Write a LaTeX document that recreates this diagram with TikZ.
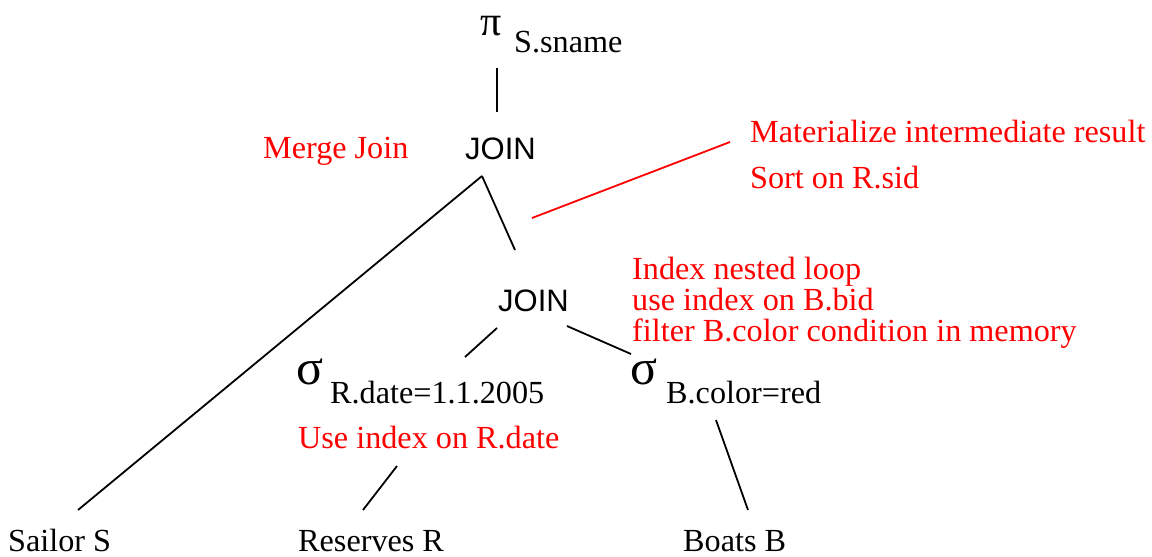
\documentclass[tikz,border=0pt]{standalone}
\usepackage{fontspec}
\setmainfont{Liberation Serif}
\newfontfamily\sansf{Liberation Sans}
\begin{document}
\begin{tikzpicture}[x=1pt,y=-1pt,
  txt/.style={anchor=base west,inner sep=0pt,font=\fontsize{32.2}{32.2}\selectfont},
  note/.style={txt,text=red},
  op/.style={anchor=base west,inner sep=0pt,font=\sansf\fontsize{31}{31}\selectfont},
  greek/.style={anchor=base west,inner sep=0pt},
  edge/.style={line width=1.8pt,black},
  redge/.style={line width=1.8pt,red}]
\useasboundingbox (0,0) rectangle (1152,557);
% projection
\node[greek,font=\fontsize{42}{42}\selectfont] (pi) at (480,35) {π};
\node[txt] (pisub) at (514,52) {S.sname};
% joins
\node[op] (join1) at (465,159) {JOIN};
\node[op] (join2) at (498,311) {JOIN};
% selections
\node[greek,font=\fontsize{50}{50}\selectfont] (sigR) at (296,384) {σ};
\node[txt] (sigRsub) at (330,403) {R.date=1.1.2005};
\node[greek,font=\fontsize{50}{50}\selectfont] (sigB) at (630,384) {σ};
\node[txt] (sigBsub) at (666,403) {B.color=red};
% relations
\node[txt] (sailor) at (8,551) {Sailor S};
\node[txt] (reserves) at (298,551) {Reserves R};
\node[txt] (boats) at (683,551) {Boats B};
% notes
\node[note] (merge) at (263,158) {Merge Join};
\node[note] (mat) at (750,142) {Materialize intermediate result};
\node[note] (sort) at (750,188) {Sort on R.sid};
\node[note] (inl1) at (632,279) {Index nested loop};
\node[note] (inl2) at (632,310) {use index on B.bid};
\node[note] (inl3) at (632,341) {filter B.color condition in memory};
\node[note] (useidx) at (298,448) {Use index on R.date};
% connector end points
\coordinate (piB) at (497,68);
\coordinate (j1T) at (497,112);
\coordinate (j1B) at (482,176);
\coordinate (sailT) at (78,510);
\coordinate (j2T) at (515,250);
\coordinate (j2L) at (497,328);
\coordinate (sRT) at (465,357);
\coordinate (j2R) at (567,326);
\coordinate (sBT) at (631,354);
\coordinate (sRB) at (397,466);
\coordinate (resT) at (363,510);
\coordinate (sBB) at (716,420);
\coordinate (boatT) at (748,510);
\coordinate (matL) at (730,142);
\coordinate (matE) at (532,218);
% connectors
\draw[edge] (piB) -- (j1T);
\draw[edge] (j1B) -- (sailT);
\draw[edge] (j1B) -- (j2T);
\draw[edge] (j2L) -- (sRT);
\draw[edge] (j2R) -- (sBT);
\draw[edge] (sRB) -- (resT);
\draw[edge] (sBB) -- (boatT);
\draw[redge] (matL) -- (matE);
\end{tikzpicture}
\end{document}
